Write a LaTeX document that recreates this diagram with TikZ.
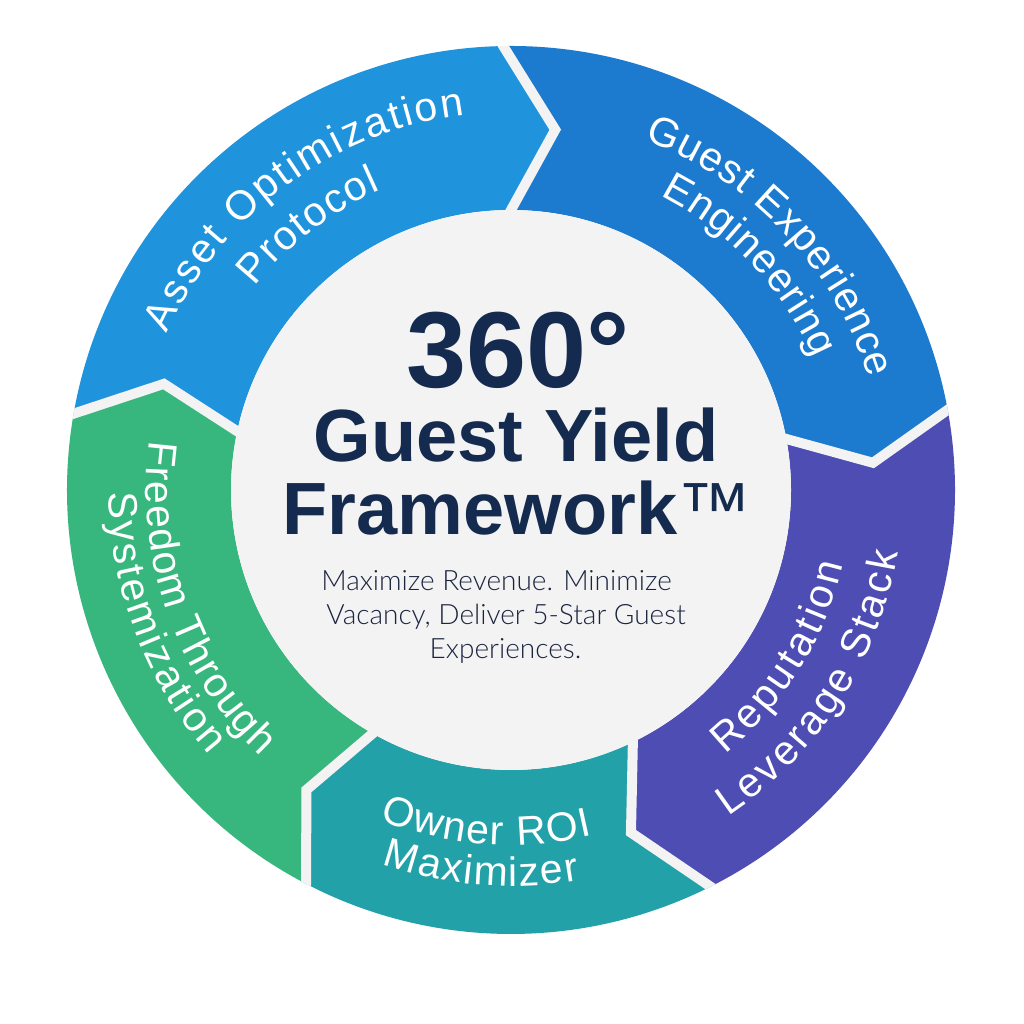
\documentclass[tikz,border=0pt]{standalone}
\usepackage{fontspec}
\setmainfont{Liberation Sans}
\newfontfamily\labfont{Liberation Sans}
\newfontfamily\ttlfont{Liberation Sans}
\IfFontExistsTF{Lato Light}{\newfontfamily\subfont{Lato Light}}{\newfontfamily\subfont{Lato}}
\usetikzlibrary{decorations.text,calc}
\definecolor{cAsset}{HTML}{2093DD}
\definecolor{cGuest}{HTML}{1C7BCF}
\definecolor{cRep}{HTML}{4D4DB3}
\definecolor{cOwner}{HTML}{22A1A8}
\definecolor{cFree}{HTML}{37B77D}
\definecolor{cDisc}{HTML}{F3F3F3}
\definecolor{cTitle}{HTML}{142A4E}
\definecolor{cSub}{HTML}{1C2540}
\newcommand\labsize{\labfont\fontsize{41}{41}\selectfont}
\begin{document}
\begin{tikzpicture}[x=1pt,y=1pt,
  gapline/.style={draw=cDisc, line width=10pt, line join=miter, line cap=butt},
  ttl/.style={inner sep=0pt, anchor=base, text=cTitle},
  subline/.style={inner sep=0pt, anchor=base, text=cSub, font=\subfont\fontsize{28}{32}\selectfont}]
\useasboundingbox (0,0) rectangle (1024,1024);
\fill[white] (0,0) rectangle (1024,1024);
\begin{scope}[shift={(511,534)}]
  % boundary points
  \coordinate (oA) at (10.4:444);  \coordinate (tA) at (4.3:363);   \coordinate (iA) at (10.5:280);
  \coordinate (oB) at (91:444);    \coordinate (tB) at (83:363);    \coordinate (iB) at (90:280);
  \coordinate (oC) at (170.1:444); \coordinate (tC) at (163:363);   \coordinate (iC) at (167.9:280);
  \coordinate (oD) at (242.5:444); \coordinate (tD) at (235.7:363); \coordinate (iD) at (240.4:280);
  \coordinate (oE) at (296.7:444); \coordinate (tE) at (289.3:363); \coordinate (iE) at (295.8:280);
  % segments
  \fill[cGuest] (oA) arc[start angle=10.4, end angle=91, radius=444pt] -- (tB) -- (iB)
     arc[start angle=90, end angle=10.5, radius=280pt] -- (tA) -- cycle;
  \fill[cAsset] (oB) arc[start angle=91, end angle=170.1, radius=444pt] -- (tC) -- (iC)
     arc[start angle=167.9, end angle=90, radius=280pt] -- (tB) -- cycle;
  \fill[cFree] (oC) arc[start angle=170.1, end angle=242.5, radius=444pt] -- (tD) -- (iD)
     arc[start angle=240.4, end angle=167.9, radius=280pt] -- (tC) -- cycle;
  \fill[cOwner] (oD) arc[start angle=242.5, end angle=296.7, radius=444pt] -- (tE) -- (iE)
     arc[start angle=295.8, end angle=240.4, radius=280pt] -- (tD) -- cycle;
  \fill[cRep] (oE) arc[start angle=296.7, end angle=370.4, radius=444pt] -- (tA) -- (iA)
     arc[start angle=370.5, end angle=295.8, radius=280pt] -- (tE) -- cycle;
  % gaps
  \begin{scope}
    \clip (0,0) circle[radius=444pt];
    \foreach \b in {A,B,C,D,E}{
      \draw[gapline] ($(t\b)!1.15!(o\b)$) -- (t\b) -- ($(t\b)!1.15!(i\b)$);
    }
  \end{scope}
  % inner disc
  \fill[cDisc] (0,0) circle[radius=280pt];
  \node[inner sep=0pt] (center) at (0,0) {};
  % labels along arcs
  \path[decorate, decoration={text along path, text={|\labsize|Asset Optimization}, text color=white, text align=fit to path}]
    (155.5:378) arc[start angle=155.5, end angle=97, radius=378pt];
  \path[decorate, decoration={text along path, text={|\labsize|Protocol}, text color=white, text align=fit to path}]
    (141.5:327) arc[start angle=141.5, end angle=113.5, radius=327pt];
  \path[decorate, decoration={text along path, text={|\labsize|Guest Experience}, text color=white, text align=fit to path}]
    (69.2:375) arc[start angle=69.2, end angle=17.3, radius=375pt];
  \path[decorate, decoration={text along path, text={|\labsize|Engineering}, text color=white, text align=fit to path}]
    (63:330) arc[start angle=63, end angle=23.5, radius=330pt];
  \path[decorate, decoration={text along path, text={|\labsize|Reputation}, text color=white, text align=fit to path}]
    (-51:340) arc[start angle=-51, end angle=-12.7, radius=340pt];
  \path[decorate, decoration={text along path, text={|\labsize|Leverage Stack}, text color=white, text align=fit to path}]
    (-56.4:392) arc[start angle=-56.4, end angle=-9.2, radius=392pt];
  \path[decorate, decoration={text along path, text={|\labsize|Owner ROI}, text color=white, text align=fit to path}]
    (-111.7:355) arc[start angle=-111.7, end angle=-76.7, radius=355pt];
  \path[decorate, decoration={text along path, text={|\labsize|Maximizer}, text color=white, text align=fit to path}]
    (-109:396) arc[start angle=-109, end angle=-80, radius=396pt];
  \path[decorate, decoration={text along path, text={|\labsize|Freedom Through}, text color=white, text align=fit to path}]
    (172.2:365) arc[start angle=172.2, end angle=226.8, radius=365pt];
  \path[decorate, decoration={text along path, text={|\labsize|Systemization}, text color=white, text align=fit to path}]
    (180.4:402) arc[start angle=180.4, end angle=221.3, radius=402pt];
\end{scope}
% title
\node[ttl, font=\ttlfont\bfseries\fontsize{108}{110}\selectfont] (title1) at (518,636) {360°};
\node[ttl, font=\ttlfont\bfseries\fontsize{74}{76}\selectfont] (title2) at (516,562) {Guest Yield};
\node[ttl, font=\ttlfont\bfseries\fontsize{74}{76}\selectfont] (title3) at (517,489) {Framework\textmd{™}};
% subtitle
\node[subline] (sub1) at (496.5,433) {Maximize Revenue. Minimize};
\node[subline] (sub2) at (506,399) {Vacancy, Deliver 5-Star Guest};
\node[subline] (sub3) at (505.5,365) {Experiences.};
\end{tikzpicture}
\end{document}
